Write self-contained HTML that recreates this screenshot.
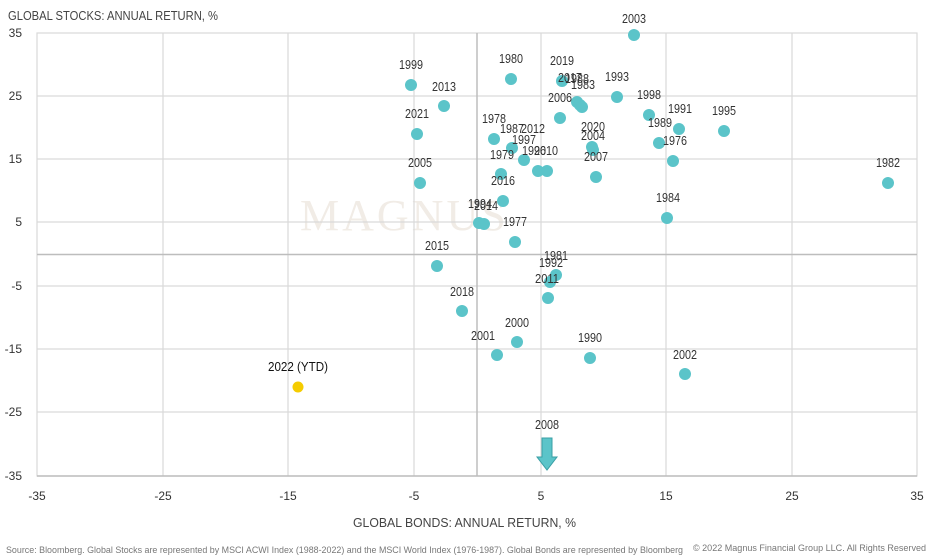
<!DOCTYPE html>
<html><head><meta charset="utf-8"><style>
html,body{margin:0;padding:0;background:#fff;width:930px;height:558px;overflow:hidden}
svg{display:block}
text{font-family:"Liberation Sans",sans-serif}
</style></head><body>
<svg width="930" height="558" viewBox="0 0 930 558">
<rect x="0" y="0" width="930" height="558" fill="#fff"/>
<text x="300" y="230" font-size="44" fill="#f1ece6" style="font-family:'Liberation Serif',serif" letter-spacing="3">MAGNUS</text>
<g stroke="#d9d9d9" stroke-width="1.2">
<line x1="163" y1="33" x2="163" y2="476"/><line x1="288" y1="33" x2="288" y2="476"/>
<line x1="414" y1="33" x2="414" y2="476"/><line x1="541" y1="33" x2="541" y2="476"/>
<line x1="666" y1="33" x2="666" y2="476"/><line x1="792" y1="33" x2="792" y2="476"/>
<line x1="37" y1="96" x2="917" y2="96"/><line x1="37" y1="159" x2="917" y2="159"/>
<line x1="37" y1="222" x2="917" y2="222"/><line x1="37" y1="286" x2="917" y2="286"/>
<line x1="37" y1="349" x2="917" y2="349"/><line x1="37" y1="412" x2="917" y2="412"/>
<rect x="37" y="33" width="880" height="443" fill="none"/>
</g>
<g stroke="#bdbdbd" stroke-width="1.5">
<line x1="477" y1="33" x2="477" y2="476"/><line x1="37" y1="254.5" x2="917" y2="254.5"/>
<line x1="37" y1="476" x2="917" y2="476"/>
</g>
<g fill="#444" font-size="13">
<text x="8" y="20" textLength="210" lengthAdjust="spacingAndGlyphs">GLOBAL STOCKS: ANNUAL RETURN, %</text>
<text x="353" y="527" textLength="223" lengthAdjust="spacingAndGlyphs">GLOBAL BONDS: ANNUAL RETURN, %</text>
</g>
<g fill="#333" font-size="12" text-anchor="end">
<text x="22" y="37">35</text><text x="22" y="100">25</text><text x="22" y="163">15</text>
<text x="22" y="226">5</text><text x="22" y="290">-5</text><text x="22" y="353">-15</text>
<text x="22" y="416">-25</text><text x="22" y="480">-35</text>
</g>
<g fill="#333" font-size="12" text-anchor="middle">
<text x="37" y="500">-35</text><text x="163" y="500">-25</text><text x="288" y="500">-15</text>
<text x="414" y="500">-5</text><text x="541" y="500">5</text><text x="666" y="500">15</text>
<text x="792" y="500">25</text><text x="917" y="500">35</text>
</g>
<g fill="#777" font-size="9.5">
<text x="6" y="553" textLength="677" lengthAdjust="spacingAndGlyphs">Source: Bloomberg. Global Stocks are represented by MSCI ACWI Index (1988-2022) and the MSCI World Index (1976-1987). Global Bonds are represented by Bloomberg</text>
<text x="693" y="551" textLength="233" lengthAdjust="spacingAndGlyphs">© 2022 Magnus Financial Group LLC. All Rights Reserved</text>
</g>
<g fill="#5bc4c9">
<circle cx="634" cy="35" r="6"/><circle cx="411" cy="85" r="6"/><circle cx="444" cy="106" r="6"/>
<circle cx="417" cy="134" r="6"/><circle cx="420" cy="183" r="6"/><circle cx="511" cy="79" r="6"/>
<circle cx="494" cy="139" r="6"/><circle cx="512" cy="148" r="6"/><circle cx="524" cy="160" r="6"/>
<circle cx="538" cy="171" r="6"/><circle cx="547" cy="171" r="6"/><circle cx="501" cy="174" r="6"/>
<circle cx="503" cy="201" r="6"/><circle cx="479" cy="223" r="6"/><circle cx="484" cy="224" r="6"/>
<circle cx="515" cy="242" r="6"/><circle cx="562" cy="81" r="6"/><circle cx="577" cy="102" r="6"/>
<circle cx="580" cy="105" r="6"/><circle cx="582" cy="107" r="6"/><circle cx="560" cy="118" r="6"/>
<circle cx="617" cy="97" r="6"/><circle cx="649" cy="115" r="6"/><circle cx="679" cy="129" r="6"/>
<circle cx="659" cy="143" r="6"/><circle cx="673" cy="161" r="6"/><circle cx="592" cy="147" r="6"/>
<circle cx="593" cy="150" r="6"/><circle cx="596" cy="177" r="6"/><circle cx="667" cy="218" r="6"/>
<circle cx="724" cy="131" r="6"/><circle cx="888" cy="183" r="6"/><circle cx="437" cy="266" r="6"/>
<circle cx="462" cy="311" r="6"/><circle cx="556" cy="275" r="6"/><circle cx="550" cy="282" r="6"/>
<circle cx="548" cy="298" r="6"/><circle cx="497" cy="355" r="6"/><circle cx="517" cy="342" r="6"/>
<circle cx="590" cy="358" r="6"/><circle cx="685" cy="374" r="6"/>
</g>
<circle cx="298" cy="387" r="5.5" fill="#f5cc00"/>
<polygon points="542,438 552,438 552,457 557,457 547,470 537,457 542,457" fill="#5bc4c9" stroke="#3a9fa5" stroke-width="1"/>
<g fill="#333" font-size="13">
<text x="622" y="23" textLength="24" lengthAdjust="spacingAndGlyphs">2003</text>
<text x="399" y="69" textLength="24" lengthAdjust="spacingAndGlyphs">1999</text>
<text x="432" y="91" textLength="24" lengthAdjust="spacingAndGlyphs">2013</text>
<text x="405" y="118" textLength="24" lengthAdjust="spacingAndGlyphs">2021</text>
<text x="408" y="167" textLength="24" lengthAdjust="spacingAndGlyphs">2005</text>
<text x="499" y="63" textLength="24" lengthAdjust="spacingAndGlyphs">1980</text>
<text x="482" y="123" textLength="24" lengthAdjust="spacingAndGlyphs">1978</text>
<text x="500" y="133" textLength="24" lengthAdjust="spacingAndGlyphs">1987</text>
<text x="521" y="133" textLength="24" lengthAdjust="spacingAndGlyphs">2012</text>
<text x="512" y="144" textLength="24" lengthAdjust="spacingAndGlyphs">1997</text>
<text x="522" y="155" textLength="24" lengthAdjust="spacingAndGlyphs">1996</text>
<text x="534" y="155" textLength="24" lengthAdjust="spacingAndGlyphs">2010</text>
<text x="490" y="159" textLength="24" lengthAdjust="spacingAndGlyphs">1979</text>
<text x="491" y="185" textLength="24" lengthAdjust="spacingAndGlyphs">2016</text>
<text x="468" y="208" textLength="24" lengthAdjust="spacingAndGlyphs">1994</text>
<text x="474" y="210" textLength="24" lengthAdjust="spacingAndGlyphs">2014</text>
<text x="503" y="226" textLength="24" lengthAdjust="spacingAndGlyphs">1977</text>
<text x="550" y="65" textLength="24" lengthAdjust="spacingAndGlyphs">2019</text>
<text x="558" y="82" textLength="24" lengthAdjust="spacingAndGlyphs">2017</text>
<text x="565" y="83" textLength="24" lengthAdjust="spacingAndGlyphs">1988</text>
<text x="571" y="89" textLength="24" lengthAdjust="spacingAndGlyphs">1983</text>
<text x="548" y="102" textLength="24" lengthAdjust="spacingAndGlyphs">2006</text>
<text x="605" y="81" textLength="24" lengthAdjust="spacingAndGlyphs">1993</text>
<text x="637" y="99" textLength="24" lengthAdjust="spacingAndGlyphs">1998</text>
<text x="668" y="113" textLength="24" lengthAdjust="spacingAndGlyphs">1991</text>
<text x="648" y="127" textLength="24" lengthAdjust="spacingAndGlyphs">1989</text>
<text x="663" y="145" textLength="24" lengthAdjust="spacingAndGlyphs">1976</text>
<text x="581" y="131" textLength="24" lengthAdjust="spacingAndGlyphs">2020</text>
<text x="581" y="140" textLength="24" lengthAdjust="spacingAndGlyphs">2004</text>
<text x="584" y="161" textLength="24" lengthAdjust="spacingAndGlyphs">2007</text>
<text x="656" y="202" textLength="24" lengthAdjust="spacingAndGlyphs">1984</text>
<text x="712" y="115" textLength="24" lengthAdjust="spacingAndGlyphs">1995</text>
<text x="876" y="167" textLength="24" lengthAdjust="spacingAndGlyphs">1982</text>
<text x="425" y="250" textLength="24" lengthAdjust="spacingAndGlyphs">2015</text>
<text x="450" y="296" textLength="24" lengthAdjust="spacingAndGlyphs">2018</text>
<text x="544" y="260" textLength="24" lengthAdjust="spacingAndGlyphs">1981</text>
<text x="539" y="267" textLength="24" lengthAdjust="spacingAndGlyphs">1992</text>
<text x="535" y="283" textLength="24" lengthAdjust="spacingAndGlyphs">2011</text>
<text x="471" y="340" textLength="24" lengthAdjust="spacingAndGlyphs">2001</text>
<text x="505" y="327" textLength="24" lengthAdjust="spacingAndGlyphs">2000</text>
<text x="578" y="342" textLength="24" lengthAdjust="spacingAndGlyphs">1990</text>
<text x="673" y="359" textLength="24" lengthAdjust="spacingAndGlyphs">2002</text>
<text x="535" y="429" textLength="24" lengthAdjust="spacingAndGlyphs">2008</text>
<text x="268" y="371" fill="#111" textLength="60" lengthAdjust="spacingAndGlyphs">2022 (YTD)</text>
</g>
</svg>
</body></html>
